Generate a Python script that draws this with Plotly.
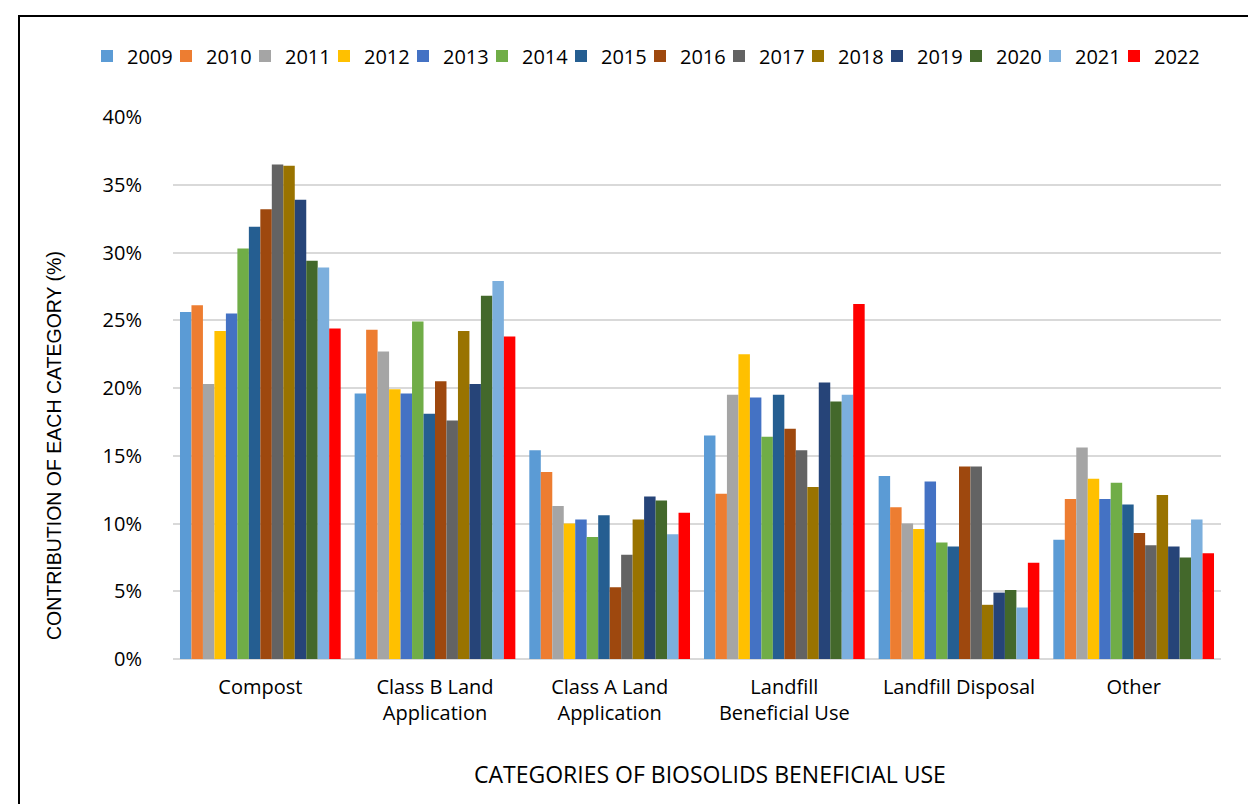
import plotly.graph_objects as go

categories = ["Compost", "Class B Land<br>Application", "Class A Land<br>Application",
              "Landfill<br>Beneficial Use", "Landfill Disposal", "Other"]
years = ["2009", "2010", "2011", "2012", "2013", "2014", "2015", "2016",
         "2017", "2018", "2019", "2020", "2021", "2022"]

v2009 = [25.6, 19.6, 15.4, 16.5, 13.5, 8.8]
v2010 = [26.1, 24.3, 13.8, 12.2, 11.2, 11.8]
v2011 = [20.3, 22.7, 11.3, 19.5, 10.0, 15.6]
v2012 = [24.2, 19.9, 10.0, 22.5, 9.6, 13.3]
v2013 = [25.5, 19.6, 10.3, 19.3, 13.1, 11.8]
v2014 = [30.3, 24.9, 9.0, 16.4, 8.6, 13.0]
v2015 = [31.9, 18.1, 10.6, 19.5, 8.3, 11.4]
v2016 = [33.2, 20.5, 5.3, 17.0, 14.2, 9.3]
v2017 = [36.5, 17.6, 7.7, 15.4, 14.2, 8.4]
v2018 = [36.4, 24.2, 10.3, 12.7, 4.0, 12.1]
v2019 = [33.9, 20.3, 12.0, 20.4, 4.9, 8.3]
v2020 = [29.4, 26.8, 11.7, 19.0, 5.1, 7.5]
v2021 = [28.9, 27.9, 9.2, 19.5, 3.8, 10.3]
v2022 = [24.4, 23.8, 10.8, 26.2, 7.1, 7.8]

series = [v2009, v2010, v2011, v2012, v2013, v2014, v2015, v2016,
          v2017, v2018, v2019, v2020, v2021, v2022]
colors = ["#5B9BD5", "#ED7D31", "#A5A5A5", "#FFC000", "#4472C4", "#70AD47",
          "#255E91", "#9E480E", "#636363", "#997300", "#264478", "#43682B",
          "#7CAFDD", "#FF0000"]

fig = go.Figure()
for y, vals, c in zip(years, series, colors):
    fig.add_trace(go.Bar(name=y, x=categories, y=vals, marker_color=c,
                         marker_line_width=0))
# invisible spacer legend entry so the last legend label is not clipped
fig.add_trace(go.Scatter(name=" ", x=[None], y=[None], mode="markers",
                         marker=dict(color="rgba(0,0,0,0)", size=1),
                         hoverinfo="skip", showlegend=True))

font = "'Open Sans', Lato, sans-serif"
L, R, T, B = 165, 1213, 109, 651
W, H = R - L, B - T

fig.update_layout(
    width=1256, height=804,
    paper_bgcolor="white", plot_bgcolor="white",
    margin=dict(l=L, r=1256 - R, t=T, b=804 - B, autoexpand=False),
    barmode="group", bargap=0.08, bargroupgap=0,
    font=dict(family=font, size=20, color="black"),
    legend=dict(orientation="h", xref="paper", yref="paper",
                x=(79 - L) / W, xanchor="left", y=(B - 48) / H, yanchor="middle",
                font=dict(size=20), itemwidth=30, traceorder="normal",
                entrywidth=34, entrywidthmode="pixels", bgcolor="rgba(0,0,0,0)"),
    xaxis=dict(tickfont=dict(size=20), showline=False, ticks="",
               ticklabelstandoff=14, automargin=False),
    yaxis=dict(range=[0, 40], dtick=5, ticksuffix="%", tickfont=dict(size=20),
               gridcolor="#D9D9D9", gridwidth=2, zeroline=True, zerolinecolor="#D9D9D9",
               zerolinewidth=2, showline=False, ticks="", ticklabelstandoff=30,
               automargin=False),
    annotations=[
        dict(text="CATEGORIES OF BIOSOLIDS BENEFICIAL USE", xref="paper", yref="paper",
             x=(702 - L) / W, y=(B - 766) / H, showarrow=False,
             xanchor="center", yanchor="middle", font=dict(size=23)),
        dict(text="CONTRIBUTION OF EACH CATEGORY (%)", xref="paper", yref="paper",
             x=(46 - L) / W, y=(B - 438) / H, showarrow=False, textangle=-90,
             xanchor="center", yanchor="middle",
             font=dict(size=19.5, family="'Liberation Sans', Arial, sans-serif")),
    ],
    shapes=[dict(type="rect", xref="paper", yref="paper",
                 x0=(11 - L) / W, x1=(1262 - L) / W,
                 y0=(B - 810) / H, y1=(B - 8) / H,
                 line=dict(color="black", width=2), fillcolor="rgba(0,0,0,0)", layer="below")],
)

fig.write_html("out.html")
